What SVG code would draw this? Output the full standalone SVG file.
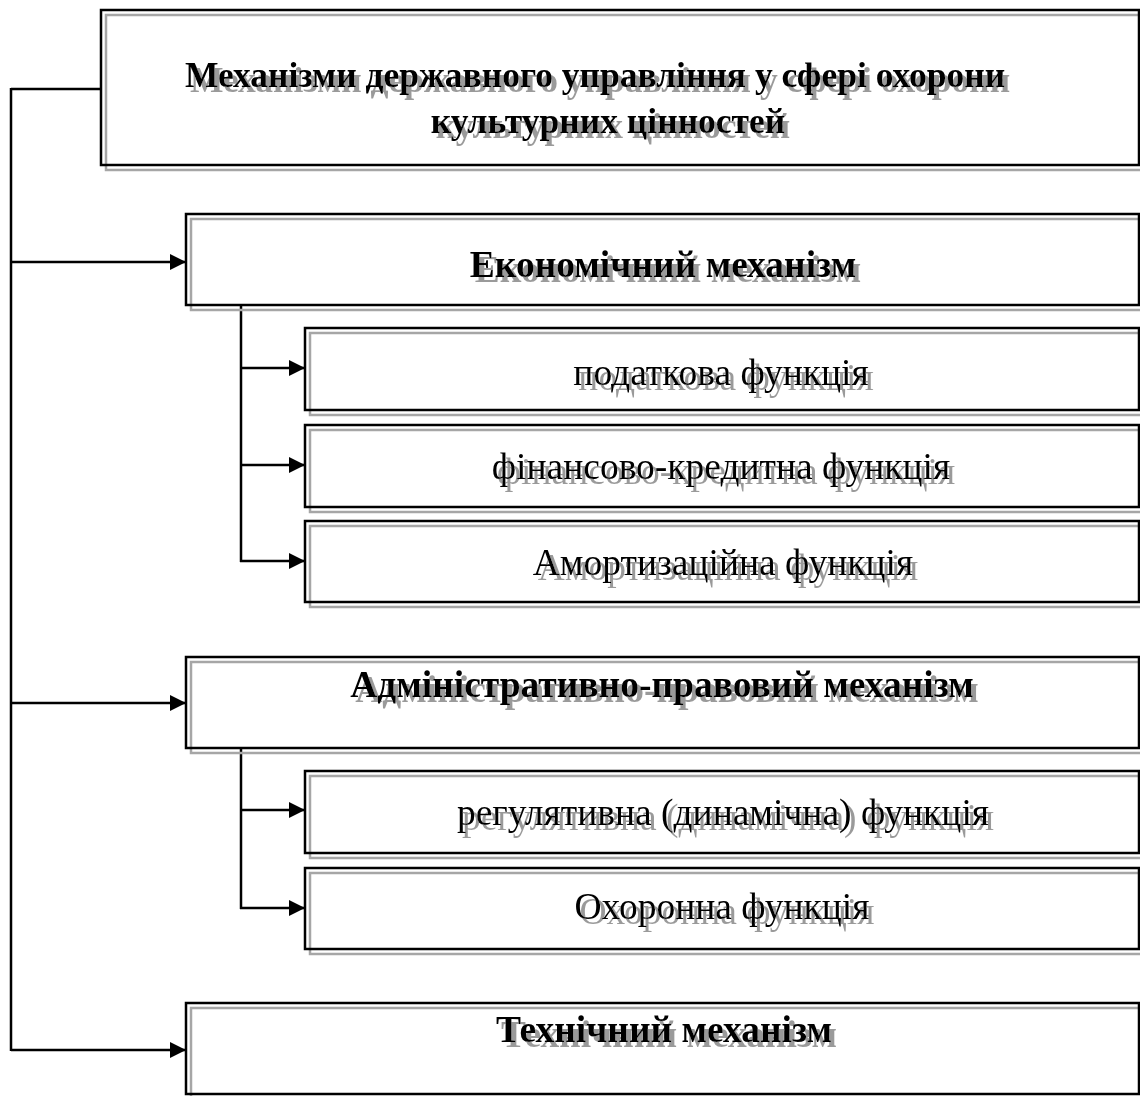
<svg xmlns="http://www.w3.org/2000/svg" width="1140" height="1096" viewBox="0 0 1140 1096">
<defs>
<style>
.sh{fill:none;stroke:#a6a6a6;stroke-width:2.5}
.bx{fill:none;stroke:#000;stroke-width:2.5}
.t{font-family:"Liberation Serif","Times New Roman",serif;font-size:37.5px;text-anchor:middle;fill:#000;filter:url(#tshadow)}
.h{font-size:35.5px}
.b{font-weight:bold}
.ln{fill:none;stroke:#000;stroke-width:2.5}
</style>
<filter id="tshadow" x="-5%" y="-30%" width="115%" height="160%">
<feFlood flood-color="#9a9a9a" result="c"/>
<feComposite in="c" in2="SourceAlpha" operator="in" result="g"/>
<feOffset in="g" dx="5" dy="5" result="o"/>
<feMerge><feMergeNode in="o"/><feMergeNode in="SourceGraphic"/></feMerge>
</filter>
<marker id="ah" viewBox="0 0 16 16" refX="16" refY="8" markerWidth="16" markerHeight="16" markerUnits="userSpaceOnUse" orient="auto">
<path d="M0,0 L16,8 L0,16 Z" fill="#000"/>
</marker>
</defs>
<rect width="1140" height="1096" fill="#fff"/>

<g id="connectors">
<path class="ln" d="M11,89 H101"/>
<path class="ln" d="M11,88 V1051"/>
<path class="ln" d="M11,262 H186" marker-end="url(#ah)"/>
<path class="ln" d="M11,703 H186" marker-end="url(#ah)"/>
<path class="ln" d="M11,1050 H186" marker-end="url(#ah)"/>
<path class="ln" d="M241,305 V562"/>
<path class="ln" d="M241,368 H305" marker-end="url(#ah)"/>
<path class="ln" d="M241,465 H305" marker-end="url(#ah)"/>
<path class="ln" d="M240,561 H305" marker-end="url(#ah)"/>
<path class="ln" d="M241,748 V909"/>
<path class="ln" d="M241,810 H305" marker-end="url(#ah)"/>
<path class="ln" d="M240,908 H305" marker-end="url(#ah)"/>
</g>

<g id="root">
<rect class="sh" x="106" y="15" width="1038" height="155"/>
<rect class="bx" x="101" y="10" width="1038" height="155"/>
<text class="t h b" x="595" y="87">Механізми державного управління у сфері охорони</text>
<text class="t h b" x="608" y="133">культурних цінностей</text>
</g>

<g id="econ">
<rect class="sh" x="191" y="219" width="953" height="91"/>
<rect class="bx" x="186" y="214" width="953" height="91"/>
<text class="t b" x="663" y="277">Економічний механізм</text>
</g>

<g id="tax">
<rect class="sh" x="310" y="333" width="834" height="82"/>
<rect class="bx" x="305" y="328" width="834" height="82"/>
<text class="t" x="721" y="385">податкова функція</text>
</g>

<g id="fin">
<rect class="sh" x="310" y="430" width="834" height="82"/>
<rect class="bx" x="305" y="425" width="834" height="82"/>
<text class="t" x="721" y="479">фінансово-кредитна функція</text>
</g>

<g id="amort">
<rect class="sh" x="310" y="526" width="834" height="81"/>
<rect class="bx" x="305" y="521" width="834" height="81"/>
<text class="t" x="723" y="575">Амортизаційна функція</text>
</g>

<g id="admin">
<rect class="sh" x="191" y="662" width="953" height="91"/>
<rect class="bx" x="186" y="657" width="953" height="91"/>
<text class="t b" x="662" y="697">Адміністративно-правовий механізм</text>
</g>

<g id="reg">
<rect class="sh" x="310" y="776" width="834" height="82"/>
<rect class="bx" x="305" y="771" width="834" height="82"/>
<text class="t" x="723" y="825">регулятивна (динамічна) функція</text>
</g>

<g id="ohor">
<rect class="sh" x="310" y="873" width="834" height="81"/>
<rect class="bx" x="305" y="868" width="834" height="81"/>
<text class="t" x="722" y="919">Охоронна функція</text>
</g>

<g id="tech">
<rect class="sh" x="191" y="1008" width="953" height="91"/>
<rect class="bx" x="186" y="1003" width="953" height="91"/>
<text class="t b" x="664" y="1042">Технічний механізм</text>
</g>
</svg>
